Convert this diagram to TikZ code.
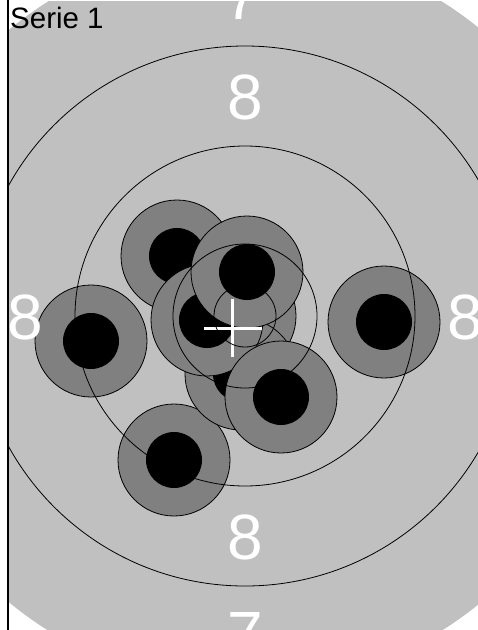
\documentclass[tikz,border=0pt]{standalone}
\usepackage{fontspec}
\setmainfont{Liberation Sans}
\definecolor{lightbg}{RGB}{192,192,192}
\definecolor{shotgray}{RGB}{128,128,128}
\begin{document}
\begin{tikzpicture}[x=1pt,y=-1pt,
  shotring/.style={draw=black, line width=0.8pt, fill=shotgray},
  shotcore/.style={fill=black},
  ringline/.style={draw=black, line width=0.8pt},
  crossline/.style={draw=white, line width=3pt},
  bignum/.style={text=white, font=\fontsize{64}{64}\selectfont, inner sep=0pt, anchor=base},
  title/.style={text=black, font=\fontsize{29.5}{30}\selectfont, inner sep=0pt, anchor=base west}]
\useasboundingbox (0,0) rectangle (478,630);
\fill[white] (0,0) rectangle (478,630);
\begin{scope}
  \clip (9,1) rectangle (478,630);
  % target background
  \fill[lightbg] (245,316) circle[radius=371pt];
  % shots: outer gray disc then black core
  \foreach \sx/\sy in {91/341, 384/322, 174/460, 177/256, 240/316, 241/374, 207/320, 247/272, 281/397}{
    \filldraw[shotring] (\sx,\sy) circle[radius=56pt];
    \fill[shotcore] (\sx,\sy) circle[radius=28pt];
  }
  % mean point of impact cross
  \coordinate (mpi) at (232.5,328);
  \draw[crossline] ([xshift=-29pt]mpi) -- ([xshift=29pt]mpi);
  \draw[crossline] ([yshift=29pt]mpi) -- ([yshift=-29pt]mpi);
  % target rings
  \coordinate (tc) at (245,316);
  \draw[ringline] (tc) circle[radius=270pt];
  \draw[ringline] (tc) circle[radius=170pt];
  \draw[ringline] (tc) circle[radius=72pt];
  \draw[ringline] (tc) circle[radius=31pt];
  % ring numbers
  \node[bignum] (n8t) at (245,119) {8};
  \node[bignum] (n8b) at (245,559) {8};
  \node[bignum] (n8l) at (25,339) {8};
  \node[bignum] (n8r) at (465,339) {8};
  \node[bignum] (n7t) at (242,19) {7};
  \node[bignum] (n7b) at (245,656) {7};
\end{scope}
% axis line
\draw[line width=1.4pt] (8,0) -- (8,630);
\node[title] (serie) at (10,28) {Serie 1};
\end{tikzpicture}
\end{document}
